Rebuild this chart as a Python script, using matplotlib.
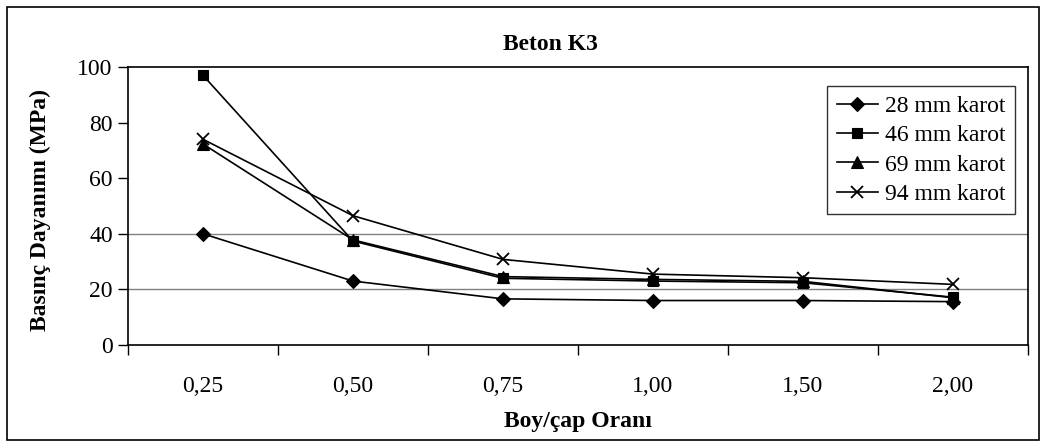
import matplotlib
matplotlib.use("Agg")
import matplotlib.pyplot as plt
from matplotlib.patches import Rectangle
import numpy as np

categories = ["0,25", "0,50", "0,75", "1,00", "1,50", "2,00"]
s28 = [40.0, 23.0, 16.6, 16.0, 16.0, 15.6]
s46 = [97.0, 37.4, 24.0, 23.0, 22.4, 17.2]
s69 = [72.3, 37.8, 24.6, 23.6, 22.9, 17.0]
s94 = [74.0, 46.5, 30.8, 25.5, 24.2, 21.8]
labels = ["28 mm karot", "46 mm karot", "69 mm karot", "94 mm karot"]

plt.rcParams['font.family'] = ['Liberation Serif', 'DejaVu Serif']

W, H = 1045, 445
fig = plt.figure(figsize=(W/100, H/100), dpi=100)
ax = fig.add_axes([128/W, 1-345/H, 900/W, 278/H])

x = np.arange(len(categories))
styles = [('D', 7, s28), ('s', 7, s46), ('^', 8, s69), ('x', 9, s94)]
for (m, ms, y), lab in zip(styles, labels):
    ax.plot(x, y, color='black', lw=1.2, marker=m, markersize=ms,
            markeredgewidth=1.3 if m == 'x' else 0.8, label=lab)

ax.set_xlim(-0.5, len(categories)-0.5)
ax.set_ylim(0, 100)
ax.set_yticks(np.arange(0, 101, 20))
for g in [20, 40]:
    ax.axhline(g, color='#808080', lw=1.0, zorder=0)

ax.set_xticks(np.arange(-0.5, len(categories), 1.0))
ax.set_xticklabels([])
ax.set_xticks(x, minor=True)
ax.set_xticklabels(categories, minor=True)
ax.tick_params(axis='x', which='major', direction='out', length=7, width=1)
ax.tick_params(axis='x', which='minor', length=0, labelsize=17, pad=22)
ax.tick_params(axis='y', direction='out', length=7, width=1, labelsize=17, pad=4)
for sp in ax.spines.values():
    sp.set_color('black')
    sp.set_linewidth(1.2)

fig.text(550/W, 1-44/H, "Beton K3", ha='center', va='center', fontsize=17, fontweight='bold')
fig.text(578/W, 1-421/H, "Boy/çap Oranı", ha='center', va='center', fontsize=17, fontweight='bold')
fig.text(40/W, 1-210/H, "Basınç Dayanımı (MPa)", ha='center', va='center', rotation=90,
         fontsize=17, fontweight='bold')

leg = ax.legend(loc='upper right', bbox_to_anchor=(1015/W, 1-86/H), bbox_transform=fig.transFigure,
                borderaxespad=0, fontsize=17, frameon=True, fancybox=False, handlelength=1.75,
                handletextpad=0.3, labelspacing=0.33, borderpad=0.4, edgecolor='black')
leg.get_frame().set_linewidth(1.0)

fig.patches.append(Rectangle((7/W, 1-440/H), 1032/W, 433/H, transform=fig.transFigure,
                             fill=False, edgecolor='black', lw=1.2))

fig.savefig("out.png", dpi=100)
